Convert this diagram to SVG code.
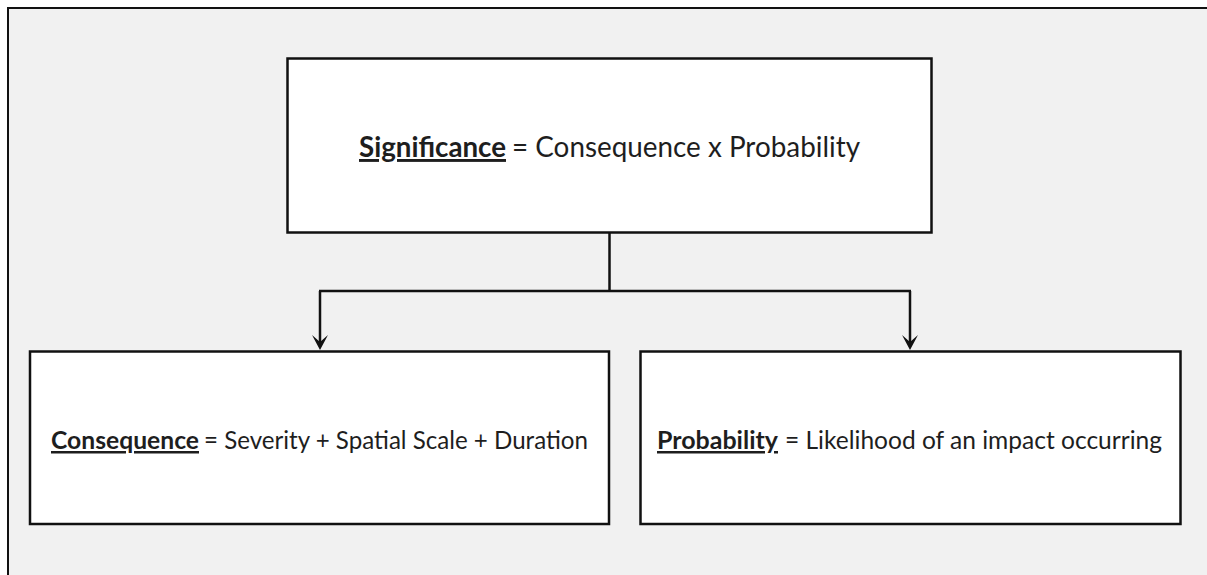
<svg xmlns="http://www.w3.org/2000/svg" width="1207" height="575" viewBox="0 0 1207 575">
  <style>
    .box { fill: #ffffff; stroke: #111111; stroke-width: 2.5; }
    .conn { fill: none; stroke: #111111; stroke-width: 2.5; }
    .head { fill: #111111; }
    .t { font-family: Lato, "Liberation Sans", sans-serif; fill: #1e1e1e; }
    .b { font-weight: bold; text-decoration: underline; }
  </style>
  <rect x="0" y="0" width="1207" height="575" fill="#ffffff"/>
  <rect x="8" y="8" width="1215" height="590" fill="#f1f1f1" stroke="#111111" stroke-width="2"/>

  <g id="connectors">
    <line class="conn" x1="609.5" y1="233" x2="609.5" y2="291"/>
    <line class="conn" x1="319" y1="291" x2="911" y2="291"/>
    <path class="conn" d="M320,291 V346"/>
    <path class="conn" d="M910,291 V346"/>
    <path class="head" d="M312,335 L320,350 L328,335 L320,342 Z"/>
    <path class="head" d="M902,335 L910,350 L918,335 L910,342 Z"/>
  </g>

  <g id="significance">
    <rect class="box" x="287.5" y="58.5" width="644" height="174"/>
    <text class="t b" x="359" y="157" font-size="29" textLength="147" lengthAdjust="spacingAndGlyphs">Significance</text>
    <text class="t" x="512" y="157" font-size="29" textLength="348" lengthAdjust="spacingAndGlyphs">= Consequence x Probability</text>
  </g>

  <g id="consequence">
    <rect class="box" x="30" y="351.5" width="579" height="172.5"/>
    <text class="t b" x="51" y="449" font-size="25" textLength="148" lengthAdjust="spacingAndGlyphs">Consequence</text>
    <text class="t" x="204" y="449" font-size="25" textLength="384" lengthAdjust="spacingAndGlyphs">= Severity + Spatial Scale + Duration</text>
  </g>

  <g id="probability">
    <rect class="box" x="640.5" y="351.5" width="540" height="172.5"/>
    <text class="t b" x="657" y="449" font-size="25" textLength="121" lengthAdjust="spacingAndGlyphs">Probability</text>
    <text class="t" x="785" y="449" font-size="25" textLength="377" lengthAdjust="spacingAndGlyphs">= Likelihood of an impact occurring</text>
  </g>
</svg>
